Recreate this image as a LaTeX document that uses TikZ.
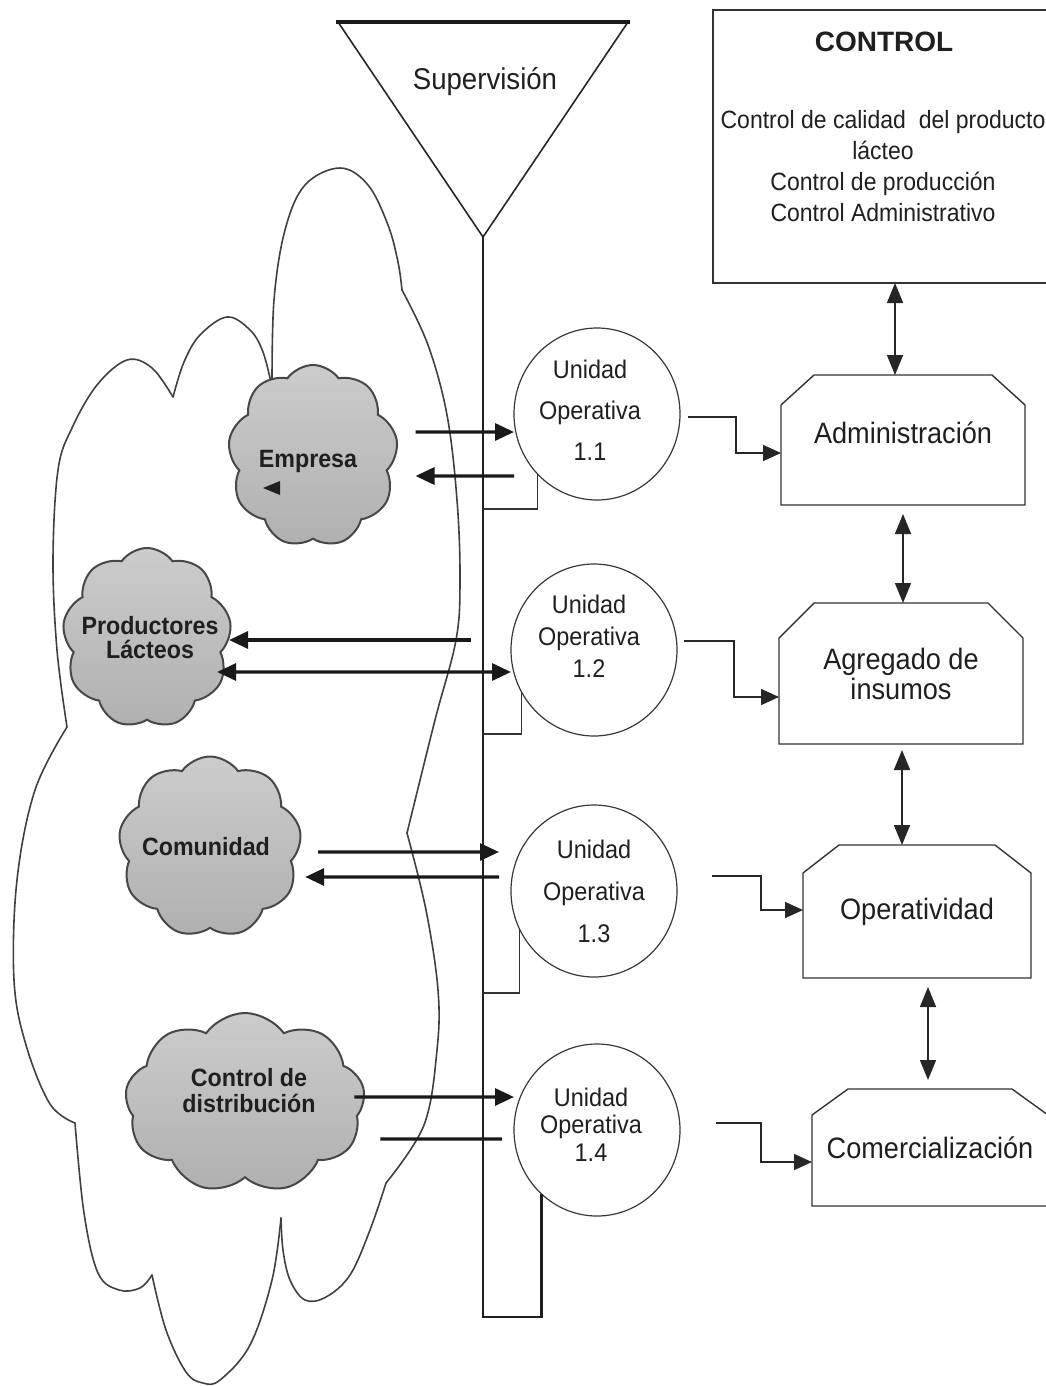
\documentclass[tikz,border=0pt]{standalone}
\usepackage{fontspec}
\setmainfont{Liberation Sans}[FakeStretch=0.92]
\newfontfamily\cloudfont{Liberation Sans}[FakeStretch=0.93]
\newfontfamily\titlefont{Liberation Sans}
\usetikzlibrary{arrows.meta,shapes.geometric,shapes.symbols,calc}

% outline of a box whose two upper corners are cut off
\newcommand\chamferbox[3]{%
  \draw[boxline] (#1.south west) -- ($(#1.north west)+(0,#3)$)
    -- ($(#1.north west)+(#2,0)$) -- ($(#1.north east)+(-#2,0)$)
    -- ($(#1.north east)+(0,#3)$) -- (#1.south east) -- cycle;}

\begin{document}
\begin{tikzpicture}[x=1pt,y=-1pt,
  every node/.style={text=black!88},
  outline/.style={draw=black!75,line width=1.6pt,line join=round,line cap=round},
  cloudy/.style={cloud,cloud puffs=9,cloud puff arc=110,draw=black!72,
    line width=2pt,top color=black!20,bottom color=black!31,inner sep=0pt,outer sep=0pt},
  cloudtext/.style={font=\cloudfont\fontsize{25}{#1}\selectfont\bfseries,align=center,inner sep=0pt},
  unit/.style={ellipse,draw=black!78,line width=1.2pt,minimum width=166pt,
    minimum height=172pt,inner sep=0pt,outer sep=0pt},
  utext/.style={font=\fontsize{25.5}{#1}\selectfont,align=center,inner sep=0pt},
  boxnode/.style={draw=none,inner sep=0pt,outer sep=0pt,align=center,
    font=\fontsize{29.5}{30}\selectfont},
  boxline/.style={draw=black!80,line width=1.4pt},
  flow/.style={draw=black!90,line width=3.2pt,-{Triangle[length=19pt,width=17pt]}},
  flowboth/.style={draw=black!90,line width=3.2pt,
    {Triangle[length=19pt,width=17pt]}-{Triangle[length=19pt,width=17pt]}},
  flowline/.style={draw=black!90,line width=3.2pt},
  elbow/.style={draw=black!85,line width=1.6pt,-{Triangle[length=18pt,width=16pt]}},
  dbl/.style={draw=black!85,line width=1.6pt,
    {Triangle[length=20pt,width=16pt]}-{Triangle[length=20pt,width=16pt]}},
  barline/.style={draw=black!88,line width=2.3pt},
  thinline/.style={draw=black!80,line width=1.3pt}]

\useasboundingbox (0,0) rectangle (1046,1386);
\clip (0,0) rectangle (1046,1386);

% ---- large outline around the environment ----
\draw[outline] plot[smooth,tension=0.6] coordinates {(173,397) (184,362) (200,335) (227,317) (250,330) (263,352) (272,387)};
\draw[outline] plot[smooth,tension=0.6] coordinates {(272,387) (274,300) (285,230) (305,185) (340,168) (368,185) (388,225) (398,262) (402,290)};
\draw[outline] plot[smooth,tension=0.6] coordinates {(402,290) (428,345) (447,415) (457,500) (460,580) (456,640) (435,720) (407,833)};
\draw[outline] plot[smooth,tension=0.6] coordinates {(407,833) (426,910) (438,990) (437,1050) (424,1125) (386,1183)};
\draw[outline] plot[smooth,tension=0.6] coordinates {(386,1183) (370,1230) (350,1275) (326,1297) (305,1300) (290,1280) (283,1250) (281,1218)};
\draw[outline] plot[smooth,tension=0.6] coordinates {(281,1218) (272,1280) (250,1345) (220,1380) (203,1383) (186,1372) (166,1330) (152,1275)};
\draw[outline] plot[smooth,tension=0.6] coordinates {(152,1275) (140,1288) (119,1290) (98,1273) (84,1213) (75,1123)};
\draw[outline] plot[smooth,tension=0.6] coordinates {(75,1123) (50,1104) (26,1045) (14,980) (17,880) (35,790) (67,727)};
\draw[outline] plot[smooth,tension=0.6] coordinates {(67,727) (57,650) (53,560) (58,470) (72,428) (97,385) (127,360) (152,368) (173,397)};

% ---- clouds ----
\node[cloudy,minimum width=170pt,minimum height=182pt,aspect=0.93] (emp) at (313,456) {};
\node[cloudtext=24] (emptxt) at (308,461) {Empresa};
\fill[black!88] (263,488) -- (280,481) -- (280,495) -- cycle;

\node[cloudy,minimum width=169pt,minimum height=180pt,aspect=0.94] (prod) at (147,638) {};
\node[cloudtext=24] (prodtxt) at (150,638) {Productores\\Lácteos};

\node[cloudy,minimum width=183pt,minimum height=181pt,aspect=1] (com) at (210,847) {};
\node[cloudtext=24] (comtxt) at (206,847) {Comunidad};

\node[cloudy,minimum width=240pt,minimum height=180pt,aspect=1.33] (dist) at (245,1103) {};
\node[cloudtext=26] (disttxt) at (249,1091) {Control de\\distribución};

% ---- supervision funnel and bar ----
\coordinate (tl) at (338,22);
\coordinate (tr) at (628,22);
\coordinate (apex) at (483,237);
\draw[draw=black!85,line width=1.6pt,line join=miter] (tl) -- (apex) -- (tr);
\draw[draw=black!90,line width=4pt] ($(tl)+(-2,0)$) -- ($(tr)+(2,0)$);
\node[font=\fontsize{30}{32}\selectfont] (suptxt) at (485,82) {Supervisión};

% ---- operative units ----
\node[unit] (u11) at (597,414) {};
\node[unit] (u12) at (594,650) {};
\node[unit] (u13) at (594,891) {};
\node[unit] (u14) at (597,1130) {};
\node[utext=41] (t11) at (590,410) {Unidad\\Operativa\\1.1};
\node[utext=32] (t12) at (589,636) {Unidad\\Operativa\\1.2};
\node[utext=42] (t13) at (594,891.5) {Unidad\\Operativa\\1.3};
\node[utext=27.5] (t14) at (591,1124.5) {Unidad\\Operativa\\1.4};

\draw[barline] (apex) |- (u14.229 |- 0,1317) -- (u14.229);
\draw[thinline] (u11.225) |- (apex |- 0,509);
\draw[thinline] (u12.210) |- (apex |- 0,734);
\draw[thinline] (u13.207) |- (apex |- 0,993);

% ---- control box ----
\node[draw=black!80,line width=1.4pt,minimum width=345pt,minimum height=273pt,
  inner sep=0pt,outer sep=0pt] (ctl) at (885.5,146.5) {};
\node[font=\titlefont\fontsize{28}{30}\selectfont\bfseries] (ctltitle) at (884,42) {CONTROL};
\node[font=\fontsize{25}{31}\selectfont,align=center,inner sep=0pt] (ctllist) at (883,166.5)
  {Control de calidad\ \ del producto\\lácteo\\Control de producción\\Control Administrativo};

% ---- process boxes ----
\node[boxnode,minimum width=244pt,minimum height=130pt,text depth=14pt] (adm) at (903,440) {Administración};
\node[boxnode,minimum width=244pt,minimum height=141pt] (agr) at (901,673.5) {Agregado de\\insumos};
\node[boxnode,minimum width=228pt,minimum height=133pt] (ope) at (917,911.5) {Operatividad};
\node[boxnode,minimum width=236pt,minimum height=117pt] (cme) at (930,1147.5) {Comercialización};
\chamferbox{adm}{33}{30}
\chamferbox{agr}{35}{35}
\chamferbox{ope}{36}{28}
\chamferbox{cme}{36}{26}

% ---- links between control and process boxes ----
\draw[dbl] (ctl.south -| 895,0) -- (adm.north -| 895,0);
\draw[dbl] ($(adm.south)+(0,9)$) -- (adm.south |- agr.north);
\draw[dbl] ($(agr.south)+(1,6)$) -- ($(agr.south |- ope.north)+(1,0)$);
\draw[dbl] ($(ope.south)+(11,9)$) -- ($(cme.north)+(-2,-9)$);

% ---- units to process boxes ----
\draw[elbow] ($(u11.east)+(8,3)$) -- ++(48,0) |- (adm.west |- 0,453);
\draw[elbow] ($(u12.east)+(7,-9)$) -- ++(50,0) |- (agr.west |- 0,697);
\draw[elbow] ($(u13.east)+(35,-15)$) -- ++(49,0) |- (ope.west |- 0,910);
\draw[elbow] ($(u14.east)+(36,-7)$) -- ++(45,0) |- (cme.west |- 0,1162);

% ---- exchanges between the environment and the units ----
\draw[flow] ($(emp.east)+(20,-24)$) -- (u11.west |- 0,432);
\draw[flow] (u11.west |- 0,476) -- ($(emp.east)+(20,20)$);
\draw[flow] ($(u12.west)+(-40,-10)$) -- (prod.east |- 0,640);
\draw[flowboth] ($(prod.east)+(-12,34)$) -- (u12.west |- 0,672);
\draw[flow] ($(com.east)+(19,5)$) -- ($(u13.west)+(-12,-39)$);
\draw[flow] ($(u13.west)+(-12,-14)$) -- ($(com.east)+(6,30)$);
\draw[flow] ($(dist.east)+(-9,-6)$) -- (u14.west |- 0,1097);
\draw[flowline] ($(dist.east)+(17,36)$) -- ($(u14.west)+(-12,9)$);

\end{tikzpicture}
\end{document}
